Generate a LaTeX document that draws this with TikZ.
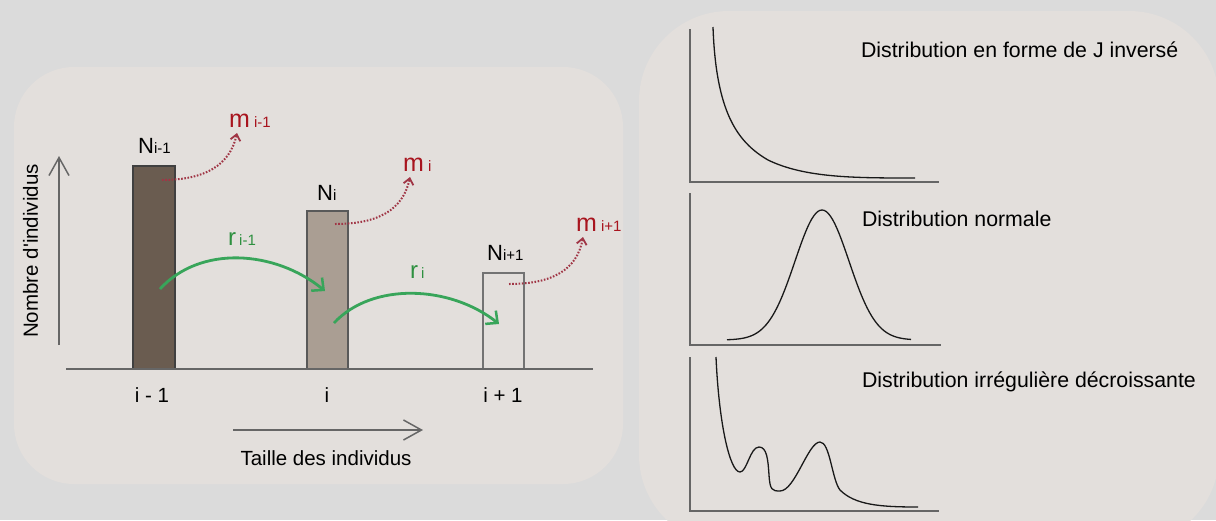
\documentclass[tikz,border=0pt]{standalone}
\usepackage{fontspec}
\setmainfont{Liberation Sans}
\usetikzlibrary{arrows.meta}
\definecolor{bg}{HTML}{DBDBDB}
\definecolor{panel}{HTML}{E3DFDC}
\definecolor{bardark}{HTML}{6A5C50}
\definecolor{barmid}{HTML}{AA9E93}
\definecolor{mred}{HTML}{A8141E}
\definecolor{mdot}{HTML}{A03545}
\definecolor{rgreen}{HTML}{38A55A}
\definecolor{rtext}{HTML}{2E9040}
\definecolor{axisgray}{HTML}{666666}
\newcommand{\lbsub}[1]{{\fontsize{15}{15}\selectfont #1}}
\begin{document}
\begin{tikzpicture}[x=1pt,y=-1pt,
  txt/.style={inner sep=0pt, outer sep=0pt, font=\fontsize{20.5}{22}\selectfont},
  dtxt/.style={inner sep=0pt, outer sep=0pt, anchor=base west, font=\fontsize{21.3}{23}\selectfont},
  nlab/.style={inner sep=0pt, anchor=base west, font=\fontsize{22}{24}\selectfont},
  mlab/.style={inner sep=0pt, anchor=base west, text=mred, font=\fontsize{25}{27}\selectfont},
  rlab/.style={inner sep=0pt, anchor=base west, text=rtext, font=\fontsize{24}{26}\selectfont},
  bar/.style={draw, line width=1.5pt, inner sep=0pt, outer sep=0pt, anchor=north west},
  axisline/.style={draw=axisgray, line width=2pt},
  axarrow/.style={draw=axisgray, line width=1.5pt, -{Straight Barb[length=18pt,width=20pt,line width=1.5pt]}},
  garrow/.style={draw=rgreen, line width=2.8pt, -{Straight Barb[length=9pt,width=17pt,line width=2.5pt]}},
  marrow/.style={draw=mdot, line width=2pt, dash pattern=on 1.6pt off 1.6pt, -{Straight Barb[length=6pt,width=10pt,line width=1.8pt]}},
  distaxis/.style={draw=axisgray, line width=1.5pt},
  curve/.style={draw=black!90, line width=1.3pt}
]
\useasboundingbox (0,0) rectangle (1216,520);
\fill[bg] (0,0) rectangle (1216,520);
% panels
\fill[panel, rounded corners=60pt] (14,67) rectangle (623,484);
\fill[panel, rounded corners=90pt] (639,11) rectangle (1219,545);

% ---------- left panel ----------
\coordinate (ybot) at (59,345);
\coordinate (ytop) at (59,156);
\draw[axarrow] (ybot) -- (ytop);
\node[txt, rotate=90] (ylab) at (30.5,251) {Nombre d\textquotesingle individus};

\node[bar, fill=bardark, draw=black!75, minimum width=42pt, minimum height=203pt] (b1) at (133,166) {};
\node[bar, fill=barmid, draw=black!65, minimum width=41pt, minimum height=158pt] (b2) at (307,211) {};
\node[bar, fill=none, draw=black!55, minimum width=41pt, minimum height=96pt] (b3) at (483,273) {};

\coordinate (bl) at (66,369);
\coordinate (br) at (593,369);
\draw[axisline] (bl) -- (br);

\node[nlab] (n1) at (138,153) {N\lbsub{i-1}};
\node[nlab] (n2) at (317,200) {N\lbsub{i}};
\node[nlab] (n3) at (487,260) {N\lbsub{i+1}};

\node[txt, anchor=base] (t1) at (152,402) {i - 1};
\node[txt, anchor=base] (t2) at (327,402) {i};
\node[txt, anchor=base] (t3) at (503,402) {i + 1};

\coordinate (xl) at (233,430);
\coordinate (xr) at (423,430);
\draw[axarrow] (xl) -- (xr);
\node[txt, anchor=base] (xlab) at (326,465) {Taille des individus};

% mortality labels and arrows
\node[mlab] (m1) at (229,127) {m\hspace{4pt}\lbsub{i-1}};
\node[mlab] (m2) at (403,171) {m\hspace{4pt}\lbsub{i}};
\node[mlab] (m3) at (576,231) {m\hspace{4pt}\lbsub{i+1}};
\coordinate (m1s) at (162,180);
\coordinate (m1e) at (237,133);
\coordinate (m2s) at (335,224);
\coordinate (m2e) at (410,177);
\coordinate (m3s) at (509,284);
\coordinate (m3e) at (583,237);
\draw[marrow] (m1s) .. controls (205,180) and (230,165) .. (m1e);
\draw[marrow] (m2s) .. controls (378,224) and (403,210) .. (m2e);
\draw[marrow] (m3s) .. controls (552,284) and (577,270) .. (m3e);

% growth labels and arrows
\node[rlab] (r1) at (228,245) {r\hspace{3pt}\lbsub{i-1}};
\node[rlab] (r2) at (410,278) {r\hspace{3pt}\lbsub{i}};
\coordinate (g1s) at (160,289);
\coordinate (g1e) at (325,291);
\coordinate (g2s) at (334,323);
\coordinate (g2e) at (499,324);
\draw[garrow] (g1s) .. controls (200,245) and (275,250) .. (g1e);
\draw[garrow] (g2s) .. controls (372,282) and (450,285) .. (g2e);

% ---------- right panel ----------
% chart 1
\draw[distaxis] (690,29) -- (690,182) -- (939,182);
\draw[curve] (713,27) .. controls (716,112) and (737,142) .. (768,160)
  .. controls (805,178) and (855,178) .. (915,178);
\node[dtxt] (d1) at (861,57) {Distribution en forme de J inversé};

% chart 2
\draw[distaxis] (690,193) -- (690,345) -- (941,345);
\draw[curve] plot[domain=727:911, samples=90, smooth] (\x, {340 - 130*exp(-((\x-822)*(\x-822))/1458)});
\node[dtxt] (d2) at (862,226) {Distribution normale};

% chart 3
\draw[distaxis] (690,357) -- (690,511) -- (939,511);
\draw[curve] (716,357) .. controls (719,425) and (730,472) .. (740,472)
  .. controls (747,472) and (750,447) .. (759,447)
  .. controls (767,447) and (768,460) .. (769,475)
  .. controls (770,490) and (772,491) .. (780,491)
  .. controls (795,491) and (808,442) .. (820,442)
  .. controls (830,442) and (832,480) .. (840,490)
  .. controls (855,505) and (880,507) .. (918,507);
\node[dtxt] (d3) at (862,387) {Distribution irrégulière décroissante};
\end{tikzpicture}
\end{document}
